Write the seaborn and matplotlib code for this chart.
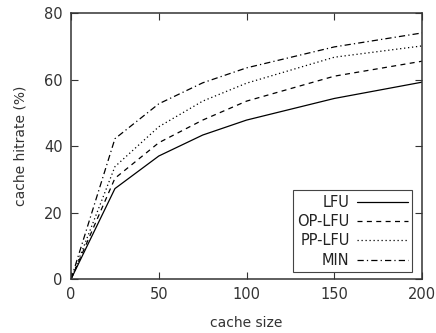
import pandas as pd
import numpy as np
import matplotlib
matplotlib.use("Agg")
import matplotlib.pyplot as plt
import seaborn as sns

# values
cache_size = [0, 25, 50, 75, 100, 150, 200]
lfu = [0, 27.2, 37.0, 43.3, 47.8, 54.3, 59.2]
op_lfu = [0, 30.3, 41.0, 47.8, 53.5, 61.0, 65.5]
pp_lfu = [0, 33.8, 45.8, 53.5, 58.9, 66.7, 70.1]
min_hr = [0, 42.2, 52.7, 59.0, 63.5, 69.8, 74.0]
series = ["LFU", "OP-LFU", "PP-LFU", "MIN"]

df = pd.DataFrame({
    "cache size": cache_size * 4,
    "hitrate": lfu + op_lfu + pp_lfu + min_hr,
    "algo": [s for s in series for _ in cache_size],
})

sns.set_theme(style="ticks")
plt.rcParams["font.family"] = ["DejaVu Sans"]

fig = plt.figure(figsize=(4.36, 3.33), dpi=100)
ax = fig.add_axes([0.163, 0.162, 0.805, 0.799])

dashes = {
    "LFU": "",
    "OP-LFU": (4, 3.5),
    "PP-LFU": (1, 2.2),
    "MIN": (5, 2.5, 1, 2.5),
}
sns.lineplot(data=df, x="cache size", y="hitrate", hue="algo", style="algo",
             palette=["black"] * 4, dashes=dashes, linewidth=0.9, ax=ax,
             legend=True)

ax.set_xlim(0, 200)
ax.set_ylim(0, 80)
ax.set_xticks([0, 50, 100, 150, 200])
ax.set_yticks([0, 20, 40, 60, 80])
ax.set_xlabel("cache size", fontsize=10, color="#333333", labelpad=10)
ax.set_ylabel("cache hitrate (%)", fontsize=10, color="#333333", labelpad=12)
ax.tick_params(direction="in", length=5, width=0.8, top=True, right=True,
               labelsize=10.5, colors="#333333", pad=6)
for sp in ax.spines.values():
    sp.set_visible(True)
    sp.set_linewidth(1.1)
    sp.set_color("#333333")

handles, labels = ax.get_legend_handles_labels()
leg = ax.legend(handles, labels, loc="lower right", markerfirst=False,
                fancybox=False, framealpha=1, edgecolor="#444444",
                fontsize=10.5, handlelength=3.5, handletextpad=0.5,
                borderpad=0.3, labelspacing=0.3, borderaxespad=0,
                bbox_to_anchor=(0.972, 0.026))
leg.get_frame().set_linewidth(0.8)
for t in leg.get_texts():
    t.set_ha("right")
    t.set_color("#222222")
for vp in leg._legend_box.get_children()[1].get_children():
    vp.align = "right"

fig.savefig("out.png", dpi=100)
